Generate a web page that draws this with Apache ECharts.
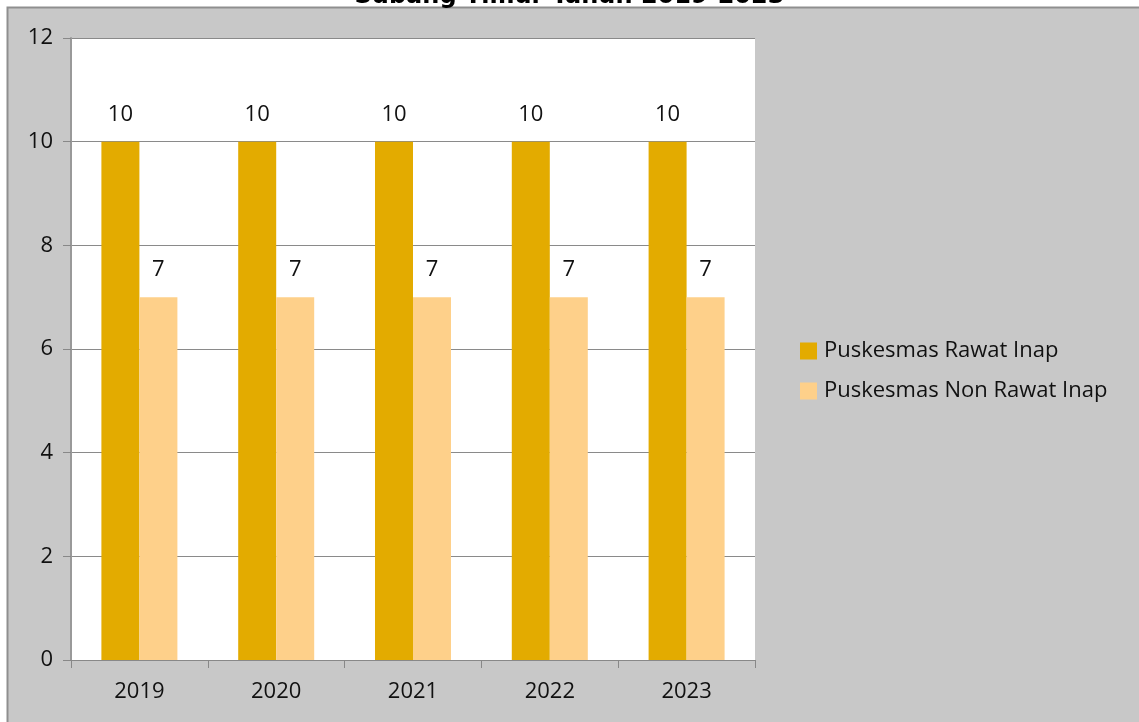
<!DOCTYPE html>
<html>
<head>
<meta charset="utf-8">
<script src="https://cdn.jsdelivr.net/npm/echarts@6/dist/echarts.min.js"></script>
<style>html,body{margin:0;padding:0;background:#fff;}#c{width:1139px;height:722px;}</style>
</head>
<body>
<div id="c"></div>
<script>
const years = ['2019', '2020', '2021', '2022', '2023'];
const rawatInap = [10, 10, 10, 10, 10];
const nonRawatInap = [7, 7, 7, 7, 7];
const seriesNames = ['Puskesmas Rawat Inap', 'Puskesmas Non Rawat Inap'];
const titleText = 'Subang Timur Tahun 2019-2023';

const chart = echarts.init(document.getElementById('c'));
const font = 'Open Sans';
chart.setOption({
  backgroundColor: '#ffffff',
  animation: false,
  title: {
    text: titleText,
    left: 'center',
    top: -20,
    textStyle: { fontFamily: 'DejaVu Sans', fontWeight: 'bold', fontSize: 24, color: '#000' }
  },
  graphic: [{
    type: 'rect', z: -10, silent: true,
    shape: { x: 7.5, y: 7.5, width: 1140, height: 720 },
    style: { fill: '#c8c8c8', stroke: '#8f8f8f', lineWidth: 2 }
  }],
  grid: {
    left: 71, right: 384, top: 38, bottom: 62,
    show: true, backgroundColor: '#ffffff', borderWidth: 0
  },
  legend: {
    orient: 'vertical', left: 795, top: 335,
    itemWidth: 17, itemHeight: 17, itemGap: 18,
    icon: 'rect',
    textStyle: { fontFamily: font, fontSize: 22, color: '#111', padding: [0, 0, 0, 2] },
    data: seriesNames
  },
  xAxis: {
    type: 'category', data: years,
    axisLine: { lineStyle: { color: '#888', width: 1 } },
    axisTick: { show: true, length: 8, lineStyle: { color: '#888' } },
    axisLabel: { fontFamily: font, fontSize: 22, color: '#111', margin: 21 }
  },
  yAxis: {
    type: 'value', min: 0, max: 12, interval: 2,
    axisLine: { show: true, lineStyle: { color: '#999', width: 2 } },
    axisTick: { show: true, length: 8, lineStyle: { color: '#888' } },
    axisLabel: { fontFamily: font, fontSize: 22, color: '#111', margin: 18 },
    splitLine: { lineStyle: { color: '#8a8a8a', width: 1 } }
  },
  series: [
    {
      name: seriesNames[0], type: 'bar', data: rawatInap,
      barWidth: 38, barGap: '0%', barCategoryGap: '44%',
      itemStyle: { color: '#E3AB00' },
      label: { show: true, position: 'top', distance: 16, fontFamily: font, fontSize: 22, color: '#111' }
    },
    {
      name: seriesNames[1], type: 'bar', data: nonRawatInap,
      barWidth: 38,
      itemStyle: { color: '#FED08A' },
      label: { show: true, position: 'top', distance: 16, fontFamily: font, fontSize: 22, color: '#111' }
    }
  ]
});
</script>
</body>
</html>
